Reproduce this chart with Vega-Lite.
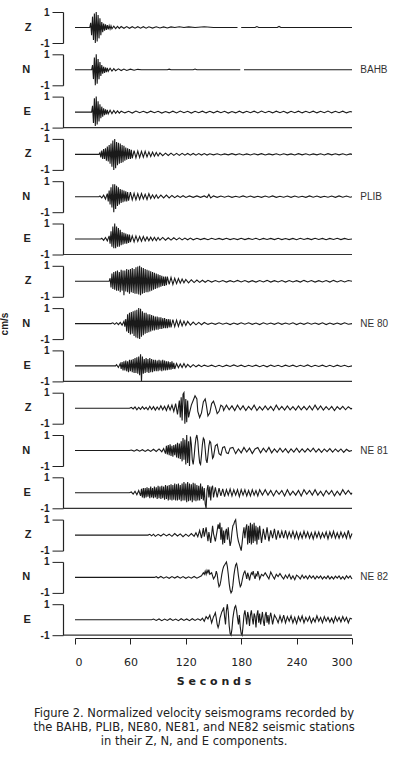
{
"$schema": "https://vega.github.io/schema/vega-lite/v6.json",
"background": "white",
"padding": {"left": 0, "right": 3, "top": 7, "bottom": 3},
"spacing": 5.3,
"title": {"text": ["Figure 2. Normalized velocity seismograms recorded by", "the BAHB, PLIB, NE80, NE81, and NE82 seismic stations", "in their Z, N, and E components."], "orient": "bottom", "anchor": "middle", "frame": "bounds", "font": "DejaVu Sans", "fontSize": 11.5, "fontWeight": "normal", "color": "#222", "lineHeight": 14, "offset": 22},
"data": {"values": [
{"panel": "01|Z", "comp": "Z", "lbl": "",
 "t": [0,16,17,18,19,20,21,22,23,24,25,26,27,28,29,30,31,32,33,34,35,36,37,38,39,40,42,44,46,48,50,53,56,59,62,65,68,71,74,77,80,84,88,92,96,100,104,108,113,118,123,130,140,150,176,178,180,195,197,199,219,221,223,300],
 "v": [0,0,0.3,-0.5,0.7,-0.8,0.9,-1,1,-0.9,0.8,-0.7,0.6,-0.5,0.35,-0.3,0.25,-0.2,0.2,-0.15,0.15,-0.12,0.12,-0.1,0.1,-0.08,0.08,-0.07,0.07,-0.06,0.06,-0.05,0.06,-0.05,0.05,-0.04,0.05,-0.04,0.05,-0.04,0.05,-0.04,0.05,-0.03,0.04,-0.03,0.04,0,0.05,0,0.04,0,0.05,0,0,null,0,0,0.06,0,0,0.07,0,0]},
{"panel": "02|N", "comp": "N", "lbl": "BAHB",
 "t": [0,18,19,20,21,22,23,24,25,26,27,28,29,30,31,32,33,34,35,36,38,40,42,44,47,50,53,56,60,64,68,72,100,102,104,128,130,132,179,181,183,300],
 "v": [0,0,0.3,-0.6,0.8,-1,1,-0.9,0.7,-0.6,0.5,-0.4,0.3,-0.25,0.2,-0.2,0.15,-0.15,0.12,-0.1,0.1,-0.08,0.08,-0.06,0.06,-0.05,0.05,-0.04,0.04,-0.03,0.03,0,0,0.04,0,0,0.05,0,0,null,0,0]},
{"panel": "03|E", "comp": "E", "lbl": "",
 "t": [0,18,19,20,21,22,23,24,25,26,27,28,29,30,31,32,33,34,35,36,38,40,42,44,46,48,50,54,58,62,66,70,74,78,82,86,90,94,98,102,106,110,114,118,122,126,130,134,138,142,146,150,154,158,162,166,170,174,178,182,186,190,194,198,202,206,210,214,218,222,226,230,234,238,242,246,250,254,258,262,266,270,274,278,282,286,290,294,298,300],
 "v": [0,0,0.4,-0.7,0.9,-0.9,1,-0.8,0.7,-0.6,0.5,-0.4,0.35,-0.3,0.25,-0.2,0.18,-0.15,0.15,-0.12,0.12,-0.1,0.1,-0.08,0.08,-0.07,0.06,-0.05,0.05,-0.06,0.07,-0.04,0.05,-0.05,0.06,-0.04,0.05,-0.06,0.04,-0.05,0.06,-0.05,0.07,-0.04,0.05,-0.06,0.05,-0.04,0.06,-0.05,0.05,-0.05,0.06,-0.04,0.05,-0.06,0.04,-0.05,0.06,-0.05,0.05,-0.04,0.06,-0.05,0.07,-0.04,0.05,-0.05,0.06,-0.04,0.05,-0.06,0.05,-0.04,0.06,-0.05,0.05,-0.04,0.06,-0.05,0.05,-0.04,0.07,-0.05,0.05,-0.04,0.06,-0.05,0.04,0]},
{"panel": "04|Z", "comp": "Z", "lbl": "",
 "t": [0,26,27,28,29,30,31,32,33,34,35,36,37,38,39,40,41,42,43,44,45,46,47,48,49,50,51,52,53,54,55,56,57,58,59,60,61,62,64,66,68,70,72,74,76,78,80,82,84,86,88,90,92,95,98,101,104,107,110,113,116,119,122,125,128,131,134,137,140,143,146,150,154,158,162,166,170,174,178,182,186,190,194,198,202,206,210,214,218,222,226,230,234,238,242,246,250,254,258,262,266,270,274,278,282,286,290,294,298,300],
 "v": [0,0,0.1,-0.2,0.25,-0.3,0.35,-0.3,0.4,-0.4,0.5,-0.45,0.6,-0.6,0.7,-0.8,0.9,-1,1,-0.9,0.8,-0.7,0.75,-0.6,0.7,-0.55,0.6,-0.5,0.55,-0.4,0.45,-0.35,0.4,-0.3,0.35,-0.3,0.3,-0.25,0.25,-0.22,0.22,-0.2,0.2,-0.18,0.2,-0.16,0.16,-0.14,0.15,-0.12,0.12,-0.1,0.1,-0.08,0.08,-0.07,0.08,-0.06,0.07,-0.06,0.07,-0.05,0.06,-0.05,0.06,-0.05,0.05,-0.04,0.05,-0.04,0.04,-0.03,0.04,-0.04,0.03,-0.03,0.05,-0.03,0.04,-0.04,0.03,-0.04,0.04,-0.03,0.05,-0.04,0.03,-0.03,0.04,-0.04,0.04,-0.03,0.03,-0.04,0.05,-0.03,0.04,-0.04,0.03,-0.03,0.04,-0.04,0.05,-0.03,0.04,-0.03,0.04,-0.04,0.03,0]},
{"panel": "05|N", "comp": "N", "lbl": "PLIB",
 "t": [0,26,27,29,31,33,35,36,37,38,39,40,41,42,43,44,45,46,47,48,49,50,51,52,53,54,55,56,57,58,60,62,64,66,68,70,72,74,76,78,80,82,84,86,88,90,93,96,99,102,105,108,111,114,117,120,124,128,132,136,140,143,145,147,150,154,158,162,166,170,174,178,182,186,190,194,198,202,206,210,214,218,222,226,230,234,238,242,246,250,254,258,262,266,270,274,278,282,286,290,294,298,300],
 "v": [0,0,0.05,-0.08,0.1,-0.15,0.2,-0.3,0.4,-0.5,0.6,-0.7,0.8,-1,0.8,-0.8,0.7,-0.6,0.6,-0.5,0.5,-0.4,0.45,-0.35,0.4,-0.3,0.35,-0.3,0.3,-0.25,0.3,-0.2,0.22,-0.2,0.2,-0.18,0.2,-0.15,0.15,-0.18,0.2,-0.12,0.12,-0.1,0.12,-0.1,0.1,-0.08,0.1,-0.08,0.08,-0.06,0.06,-0.05,0.06,-0.05,0.05,-0.04,0.05,-0.04,0.05,-0.05,0.15,-0.08,0.05,-0.04,0.04,-0.03,0.04,-0.04,0.03,-0.03,0.05,-0.03,0.04,-0.04,0.03,-0.04,0.04,-0.03,0.05,-0.04,0.03,-0.03,0.04,-0.04,0.04,-0.03,0.03,-0.04,0.05,-0.03,0.04,-0.04,0.03,-0.03,0.04,-0.04,0.05,-0.03,0.04,-0.03,0]},
{"panel": "06|E", "comp": "E", "lbl": "",
 "t": [0,28,29,31,33,35,37,38,39,40,41,42,43,44,45,46,47,48,49,50,51,52,53,54,55,56,57,58,59,60,62,64,66,68,70,72,74,76,78,80,82,84,86,88,90,92,95,98,101,104,107,110,113,116,119,122,125,128,132,136,140,144,148,152,156,160,164,168,172,176,180,184,188,192,196,200,204,208,212,216,220,224,228,232,236,240,244,248,252,256,260,264,268,272,276,280,284,288,292,296,300],
 "v": [0,0,0.05,-0.08,0.1,-0.12,0.2,-0.3,0.5,-0.5,0.8,-0.6,1,-0.6,0.8,-0.5,0.7,-0.5,0.6,-0.4,0.45,-0.35,0.4,-0.3,0.35,-0.3,0.3,-0.25,0.28,-0.2,0.2,-0.18,0.2,-0.15,0.16,-0.14,0.16,-0.12,0.13,-0.12,0.12,-0.1,0.11,-0.1,0.1,-0.08,0.1,-0.08,0.08,-0.07,0.08,-0.06,0.07,-0.06,0.06,-0.05,0.06,-0.05,0.05,-0.04,0.04,-0.05,0.05,-0.03,0.04,-0.04,0.05,-0.04,0.03,-0.04,0.05,-0.04,0.04,-0.03,0.05,-0.05,0.04,-0.03,0.04,-0.04,0.05,-0.04,0.03,-0.04,0.04,-0.05,0.05,-0.03,0.04,-0.04,0.05,-0.03,0.04,-0.05,0.04,-0.03,0.05,-0.04,0.04,-0.03,0]},
{"panel": "07|Z", "comp": "Z", "lbl": "",
 "t": [0,37,38,39,40,41,42,43,44,45,46,47,48,49,50,51,52,53,54,55,56,57,58,59,60,61,62,63,64,65,66,67,68,69,70,71,72,73,74,75,76,77,78,79,80,81,82,83,84,85,86,87,88,89,90,91,92,93,94,95,96,97,98,99,100,102,104,106,108,110,112,114,116,118,120,123,126,129,132,135,138,141,144,148,152,156,160,164,168,172,176,180,184,188,192,196,200,204,208,212,216,220,224,228,232,236,240,244,248,252,256,260,264,268,272,276,280,284,288,292,296,300],
 "v": [0,0,0.2,-0.4,0.5,-0.5,0.6,-0.55,0.65,-0.6,0.7,-0.6,0.6,-0.7,0.75,-0.6,0.7,-0.9,0.7,-0.65,0.8,-0.7,0.75,-0.8,0.8,-0.7,0.85,-0.75,0.8,-0.8,0.9,-0.8,0.95,-0.85,1,-0.9,0.9,-0.8,0.85,-0.75,0.8,-0.7,0.75,-0.7,0.7,-0.65,0.65,-0.6,0.6,-0.55,0.55,-0.5,0.5,-0.45,0.45,-0.4,0.4,-0.35,0.35,-0.3,0.3,-0.3,0.3,-0.25,0.3,-0.2,0.25,-0.2,0.2,-0.15,0.18,-0.12,0.15,-0.1,0.12,-0.1,0.1,-0.08,0.08,-0.07,0.07,-0.06,0.06,-0.05,0.05,-0.04,0.05,-0.05,0.04,-0.04,0.06,-0.04,0.05,-0.05,0.04,-0.05,0.05,-0.04,0.06,-0.05,0.04,-0.04,0.05,-0.05,0.05,-0.04,0.04,-0.05,0.06,-0.04,0.05,-0.05,0.04,-0.04,0.05,-0.05,0.06,-0.04,0.05,-0.04,0.05,0]},
{"panel": "08|N", "comp": "N", "lbl": "NE 80",
 "t": [0,39,41,43,45,47,49,51,53,54,55,56,57,58,59,60,61,62,63,64,65,66,67,68,69,70,71,72,73,74,75,76,77,78,79,80,81,82,83,84,85,86,87,88,89,90,91,92,93,94,95,96,97,98,99,100,101,102,103,104,106,108,110,112,114,116,118,120,122,125,128,131,134,137,140,144,148,152,156,160,164,168,172,176,180,184,188,192,196,200,204,208,212,216,220,224,228,232,236,240,244,248,252,256,260,264,268,272,276,280,284,288,292,296,300],
 "v": [0,0,0.05,-0.05,0.06,-0.07,0.08,-0.1,0.15,-0.2,0.3,-0.5,0.6,-0.6,0.7,-0.7,0.75,-0.65,0.8,-0.8,0.85,-0.9,0.9,-0.95,1,-1,0.95,-0.85,0.8,-0.75,0.7,-0.65,0.7,-0.6,0.6,-0.55,0.6,-0.5,0.55,-0.45,0.5,-0.45,0.45,-0.4,0.45,-0.4,0.4,-0.35,0.4,-0.35,0.35,-0.3,0.35,-0.3,0.3,-0.3,0.3,-0.25,0.28,-0.25,0.25,-0.2,0.22,-0.18,0.2,-0.15,0.16,-0.12,0.14,-0.1,0.1,-0.08,0.08,-0.07,0.07,-0.05,0.04,-0.05,0.05,-0.04,0.04,-0.06,0.04,-0.05,0.05,-0.04,0.05,-0.05,0.04,-0.06,0.05,-0.04,0.04,-0.05,0.05,-0.05,0.04,-0.04,0.05,-0.06,0.04,-0.05,0.05,-0.04,0.04,-0.05,0.05,-0.06,0.04,-0.05,0.04,-0.05,0.05,-0.04,0]},
{"panel": "09|E", "comp": "E", "lbl": "",
 "t": [0,44,45,47,49,50,51,52,53,54,55,56,57,58,59,60,61,62,63,64,65,66,67,68,69,70,71,72,73,74,75,76,77,78,79,80,81,82,83,84,85,86,87,88,89,90,91,92,93,94,95,96,97,98,99,100,101,102,103,104,105,106,107,108,110,112,114,116,118,120,122,125,128,131,134,137,140,144,148,152,156,160,164,168,172,176,180,184,188,192,196,200,204,208,212,216,220,224,228,232,236,240,244,248,252,256,260,264,268,272,276,280,284,288,292,296,300],
 "v": [0,0,0.08,-0.1,0.15,-0.2,0.25,-0.3,0.3,-0.3,0.35,-0.35,0.3,-0.4,0.4,-0.35,0.4,-0.4,0.45,-0.45,0.5,-0.45,0.55,-0.5,0.6,-0.6,0.75,-1,0.6,-0.5,0.45,-0.45,0.5,-0.4,0.45,-0.45,0.5,-0.4,0.45,-0.4,0.4,-0.35,0.4,-0.35,0.35,-0.35,0.4,-0.3,0.35,-0.35,0.4,-0.3,0.35,-0.3,0.3,-0.28,0.3,-0.25,0.25,-0.25,0.3,-0.2,0.2,-0.2,0.15,-0.12,0.12,-0.1,0.15,-0.1,0.1,-0.08,0.08,-0.06,0.06,-0.05,0.05,-0.04,0.05,-0.05,0.04,-0.05,0.05,-0.04,0.06,-0.04,0.05,-0.05,0.04,-0.04,0.05,-0.05,0.04,-0.06,0.05,-0.04,0.04,-0.05,0.05,-0.04,0.05,-0.05,0.04,-0.04,0.06,-0.05,0.04,-0.04,0.05,-0.05,0.04,-0.05,0.05,-0.04,0.04,-0.05,0]},
{"panel": "10|Z", "comp": "Z", "lbl": "",
 "t": [0,59,61,63,65,67,69,71,73,75,77,79,81,83,85,87,89,91,93,95,97,99,101,103,105,107,109,111,113,114,115,116,117,118,119,120,121,122,123,124,126,128,130,132,133,135,137,139,141,142,144,146,148,150,152,154,156,158,160,161,164,167,170,173,176,179,182,185,188,191,194,197,200,203,206,209,212,215,218,221,224,227,230,233,236,239,242,245,248,251,254,257,260,263,266,269,272,275,278,281,284,287,290,293,296,299,300],
 "v": [0,0,0.05,-0.05,0.08,-0.1,0.06,-0.08,0.1,-0.06,0.05,-0.1,0.12,-0.08,0.1,-0.12,0.08,-0.1,0.15,-0.1,0.12,-0.15,0.18,-0.12,0.2,-0.2,0.3,-0.4,0.5,-0.6,0.7,-0.8,0.9,1,-1,0.6,-0.9,0.5,-0.6,-0.3,0.2,0.5,0.8,0.6,-0.2,-0.6,-0.3,0.4,0.6,0.3,-0.5,-0.3,0.3,0.45,0.1,-0.35,-0.2,0.2,0.1,-0.15,0.2,-0.1,0.15,-0.15,0.2,-0.1,0.15,-0.15,0.12,-0.1,0.2,-0.15,0.1,-0.12,0.15,-0.1,0.12,-0.15,0.2,-0.1,0.12,-0.12,0.15,-0.1,0.1,-0.12,0.15,-0.1,0.12,-0.1,0.15,-0.12,0.2,-0.1,0.15,-0.12,0.1,-0.1,0.12,-0.15,0.1,-0.08,0.12,-0.1,0.1,-0.05,0]},
{"panel": "11|N", "comp": "N", "lbl": "NE 81",
 "t": [0,59,61,64,67,70,73,76,79,82,85,88,91,94,96,98,99,100,101,102,103,104,105,106,107,108,109,110,111,112,113,114,115,116,117,118,119,120,121,122,123,124,125,126,127,128,129,130,131,132,133,134,135,136,137,138,139,140,141,142,143,144,145,146,147,148,149,150,152,154,156,158,160,162,164,166,168,171,174,177,180,183,186,189,192,195,198,201,204,207,210,213,216,219,222,225,228,231,234,237,240,243,246,249,252,255,258,261,264,267,270,273,276,279,282,285,288,291,294,297,300],
 "v": [0,0,0.03,-0.04,0.05,-0.04,0.05,-0.06,0.05,-0.06,0.08,-0.06,0.1,-0.08,0.12,-0.2,0.3,-0.25,0.35,-0.3,0.4,-0.35,0.3,-0.4,0.35,-0.3,0.4,-0.45,0.5,-0.5,0.45,-0.55,0.6,-0.7,0.8,-0.6,0.7,-0.9,1,-0.8,0.6,-1,0.9,0.4,-0.6,-0.9,-0.4,0.3,0.8,1,0.6,-0.2,-0.8,-0.9,-0.3,0.4,0.8,0.7,0.1,-0.6,-0.8,-0.3,0.3,0.6,0.5,0,-0.5,-0.4,0.3,0.4,-0.2,-0.3,0.2,0.25,-0.15,-0.2,0.15,0.2,-0.2,0.1,-0.15,0.2,-0.1,0.15,-0.2,0.1,0.2,-0.15,0.15,-0.1,0.2,-0.15,0.1,-0.12,0.15,-0.1,0.12,-0.15,0.1,-0.1,0.15,-0.12,0.1,-0.1,0.12,-0.08,0.15,-0.1,0.1,-0.12,0.1,-0.08,0.12,-0.1,0.1,-0.08,0.1,-0.12,0.08,-0.05,0]},
{"panel": "12|E", "comp": "E", "lbl": "",
 "t": [0,59,61,63,65,67,69,71,72,73,74,75,76,77,78,79,80,81,82,83,84,85,86,87,88,89,90,91,92,93,94,95,96,97,98,99,100,101,102,103,104,105,106,107,108,109,110,111,112,113,114,115,116,117,118,119,120,121,122,123,124,125,126,127,128,129,130,131,132,133,134,135,136,137,138,139,140,141,142,143,144,145,146,147,148,149,150,152,154,156,158,160,162,164,166,168,170,172,174,176,178,180,182,184,186,188,190,192,194,196,198,200,203,206,209,212,215,218,221,224,227,230,233,236,239,242,245,248,251,254,257,260,263,266,269,272,275,278,281,284,287,290,293,296,299,300],
 "v": [0,0,0.05,-0.08,0.1,-0.12,0.15,-0.2,0.25,-0.3,0.3,-0.35,0.3,-0.3,0.35,-0.25,0.3,-0.35,0.4,-0.3,0.3,-0.35,0.4,-0.3,0.35,-0.4,0.45,-0.35,0.4,-0.4,0.45,-0.35,0.4,-0.45,0.5,-0.4,0.45,-0.5,0.5,-0.45,0.55,-0.5,0.5,-0.45,0.6,-0.5,0.55,-0.5,0.6,-0.45,0.5,-0.55,0.6,-0.5,0.7,-0.5,0.6,-0.6,0.7,-0.55,0.6,-0.5,0.55,-0.6,0.65,-0.5,0.6,-0.55,0.5,-0.5,0.45,-0.5,0.6,-0.4,0.4,-0.5,0.3,-0.7,-1,0.2,0.5,-0.3,0.4,-0.5,0.3,0.45,-0.3,0.35,-0.3,0.3,-0.2,0.25,-0.25,0.2,-0.15,0.25,-0.2,0.2,-0.15,0.2,-0.25,0.2,-0.15,0.2,-0.2,0.15,-0.2,0.2,-0.15,0.15,-0.2,0.2,-0.15,0.2,-0.15,0.15,-0.2,0.15,-0.1,0.15,-0.2,0.2,-0.15,0.1,-0.15,0.15,-0.2,0.2,-0.1,0.15,-0.15,0.2,-0.15,0.1,-0.2,0.15,-0.1,0.15,-0.2,0.1,-0.15,0.2,-0.1,0.15,-0.1,0]},
{"panel": "13|Z", "comp": "Z", "lbl": "",
 "t": [0,79,81,83,85,87,90,93,96,99,102,105,108,111,114,117,120,123,126,129,131,133,135,137,139,140,142,144,145,147,149,150,152,154,155,156,157,158,159,160,161,162,163,164,165,166,167,168,169,170,171,172,173,174,175,176,177,178,179,180,181,182,183,184,185,186,187,188,189,190,191,192,193,194,195,196,197,198,199,200,202,204,206,208,210,212,214,216,218,220,222,224,226,228,230,232,234,236,238,240,242,244,246,248,250,252,254,256,258,260,262,264,266,268,270,272,274,276,278,280,282,284,286,288,290,292,294,296,298,300],
 "v": [0,0,0.05,-0.05,0.06,-0.08,0.05,-0.06,0.08,-0.05,0.06,-0.08,0.1,-0.06,0.08,-0.1,0.06,-0.08,0.1,-0.08,0.15,-0.1,0.3,-0.2,0.45,-0.1,0.5,-0.4,0.2,-0.5,0.6,0.1,-0.4,0.3,0.7,0.4,0.8,-0.3,0.5,-0.6,0.3,-0.5,0.2,0.4,-0.3,0.5,-0.2,-0.7,-0.4,0.2,0.6,0.7,0.9,1,0.4,-0.1,-0.4,-0.6,-0.8,-1,-0.5,0.1,0.5,-0.2,0.4,0.7,-0.6,0.6,-0.5,0.8,-0.6,0.7,-0.5,0.8,-0.4,0.6,-0.6,0.5,-0.3,0.6,-0.5,0.4,-0.3,0.5,-0.4,0.3,-0.2,0.4,-0.3,0.3,-0.2,0.25,-0.2,0.3,-0.2,0.2,-0.15,0.25,-0.2,0.2,-0.25,0.15,-0.2,0.25,-0.15,0.2,-0.2,0.15,-0.25,0.2,-0.15,0.2,-0.2,0.15,-0.15,0.2,-0.25,0.2,-0.15,0.25,-0.2,0.15,-0.2,0.2,-0.15,0.15,-0.2,0.3,-0.2,0.1]},
{"panel": "14|N", "comp": "N", "lbl": "NE 82",
 "t": [0,86,88,90,93,96,99,102,105,108,111,114,117,120,123,126,129,132,135,137,138,139,140,141,142,143,144,145,146,147,148,149,150,151,152,153,154,155,156,157,158,159,160,161,162,163,164,165,166,167,168,169,170,171,172,173,174,175,176,177,178,179,180,181,182,183,184,185,186,187,188,189,190,191,192,193,194,195,196,197,198,199,200,202,204,206,208,210,212,214,216,218,220,222,224,226,228,230,232,234,236,238,240,242,244,246,248,250,252,254,256,258,260,262,264,266,268,270,272,274,276,278,280,282,284,286,288,290,292,294,296,298,300],
 "v": [0,0,0.05,-0.04,0.06,-0.05,0.04,-0.06,0.05,-0.04,0.06,-0.05,0.05,-0.06,0.04,-0.05,0.06,-0.05,0.04,0.1,0.2,0.3,0.2,0.4,0.2,0.45,0.3,0.5,0.2,0.25,0.3,0.1,-0.1,0,0.1,0.4,0.2,-0.3,-0.6,-0.5,-0.2,0.2,0.5,0.7,0.8,0.9,1,0.7,0.2,-0.4,-0.8,-1,-0.9,-0.5,0.1,0.5,0.8,0.9,0.6,0.1,-0.3,-0.6,-0.5,-0.2,0.1,0.3,0.4,0.2,-0.1,0.3,0.1,-0.2,0.1,0.3,0.2,0.4,0.1,-0.1,0.2,0.1,0.4,0.2,-0.1,0.2,0.1,0.3,0.1,-0.1,0.35,0.1,-0.1,0.2,0.05,0.25,0.05,-0.1,0.15,-0.05,0.2,-0.1,0.1,-0.15,0.15,0.05,-0.1,0.15,-0.05,0.1,-0.1,0.12,-0.05,0.1,-0.1,0.08,-0.05,0.1,-0.1,0.05,-0.08,0.1,-0.1,0.05,-0.1,0.08,-0.05,0.1,-0.1,0.05,-0.12,0.1,-0.05,0.1,-0.1]},
{"panel": "15|E", "comp": "E", "lbl": "",
 "t": [0,83,85,88,91,94,97,100,103,106,109,112,115,118,121,124,127,130,133,136,138,140,142,144,146,148,150,151,152,153,154,155,156,157,158,159,160,161,162,163,164,165,166,167,168,169,170,171,172,173,174,175,176,177,178,179,180,181,182,183,184,185,186,187,188,189,190,191,192,193,194,195,196,197,198,199,200,201,202,203,204,205,206,207,208,209,210,211,212,213,214,216,218,220,222,224,226,228,230,232,234,236,238,240,242,244,246,248,250,252,254,256,258,260,262,264,266,268,270,272,274,276,278,280,282,284,286,288,290,292,294,296,298,300],
 "v": [0,0,0.04,-0.05,0.05,-0.06,0.04,-0.05,0.06,-0.05,0.04,-0.06,0.06,-0.05,0.05,-0.06,0.06,-0.05,0.06,-0.04,0.1,-0.1,0.2,0.05,0.3,-0.2,0.2,0.3,0.45,0.1,-0.3,-0.5,-0.3,0.1,0.3,0.5,0.6,0.8,0.2,-0.3,0.6,1,0.5,-0.4,-0.9,-1,-0.6,0.1,0.5,0.8,0.9,0.6,0.1,-0.3,0.3,-0.5,-0.9,-1,-0.4,0.3,0.6,0.2,-0.3,0.5,0.2,-0.4,0.3,0.6,0.1,-0.3,0.4,0.2,-0.5,0.3,0.6,-0.2,0.4,-0.3,0.1,0.5,-0.1,-0.4,0.3,0.5,-0.2,0.3,-0.3,0.2,0.45,0.1,-0.3,0.3,0.1,-0.2,0.25,-0.15,0.3,-0.2,0.2,-0.1,0.25,-0.2,0.15,-0.25,0.2,-0.1,0.25,-0.2,0.15,-0.1,0.2,-0.2,0.1,-0.15,0.25,-0.1,0.15,-0.2,0.2,-0.1,0.15,-0.15,0.1,-0.2,0.2,-0.1,0.15,-0.15,0.2,-0.1,0.15,-0.2,0.1,0.05]}
]},
"facet": {"row": {"field": "panel", "type": "nominal", "header": {
  "title": "cm/s", "titleOrient": "left", "titleFont": "Liberation Sans", "titleFontSize": 10, "titleFontWeight": "bold", "titleColor": "#222", "titlePadding": 2,
  "labelOrient": "left", "labelAngle": 0, "labelFont": "Liberation Sans", "labelFontSize": 11, "labelFontWeight": "bold", "labelColor": "#222", "labelPadding": 2,
  "labelExpr": "substring(datum.value, 3)"}}},
"spec": {
  "width": 277, "height": 31,
  "layer": [
    {"transform": [{"flatten": ["t", "v"]}],
     "mark": {"type": "line", "color": "#1a1a1a", "strokeWidth": 1.1, "invalid": "break-paths-show-domains"},
     "encoding": {
       "x": {"field": "t", "type": "quantitative", "scale": {"domain": [0, 300], "nice": false},
             "axis": {"values": [0,30,60,90,120,150,180,210,240,270,300], "labelExpr": "datum.value % 60 == 0 ? datum.label : ''", "grid": false, "tickSize": 6, "tickColor": "#222", "domainColor": "#222", "domainWidth": 1.2, "labelFont": "DejaVu Sans", "labelFontSize": 11, "labelColor": "#222", "labelPadding": 12, "titleFont": "DejaVu Sans", "titleFontSize": 11, "titleFontWeight": "bold", "titleColor": "#222", "titlePadding": 8},
             "title": "S e c o n d s"},
       "y": {"field": "v", "type": "quantitative", "scale": {"domain": [-1, 1], "nice": false},
             "axis": {"values": [-1, 0, 1], "labelExpr": "replace(datum.label, '\u2212', '-')", "labelOverlap": false, "labelSeparation": 0, "labelBound": false, "grid": false, "minExtent": 0, "tickSize": 11, "tickColor": "#222", "domainColor": "#222", "domainWidth": 1.2, "labelFont": "Liberation Sans", "labelFontSize": 10, "labelFontWeight": "bold", "labelColor": "#222", "labelPadding": 3},
             "title": null}
     }},
    {"transform": [{"filter": "datum.lbl != ''"}],
     "mark": {"type": "text", "align": "left", "baseline": "middle", "font": "Liberation Sans", "fontSize": 10, "color": "#333"},
     "encoding": {
       "x": {"datum": 309, "type": "quantitative", "scale": {"domain": [0, 300], "nice": false}, "title": "S e c o n d s"},
       "y": {"datum": 0, "type": "quantitative", "scale": {"domain": [-1, 1], "nice": false}, "title": null},
       "text": {"field": "lbl"}
     }},
    {"transform": [{"filter": "datum.comp == 'E'"}],
     "mark": {"type": "rule", "color": "#333", "strokeWidth": 1.2},
     "encoding": {
       "x": {"datum": -12, "type": "quantitative", "scale": {"domain": [0, 300], "nice": false}, "title": "S e c o n d s"},
       "x2": {"datum": 300},
       "y": {"datum": -1, "type": "quantitative", "scale": {"domain": [-1, 1], "nice": false}, "title": null}
     }}
  ]
},
"config": {"view": {"stroke": null}}
}
